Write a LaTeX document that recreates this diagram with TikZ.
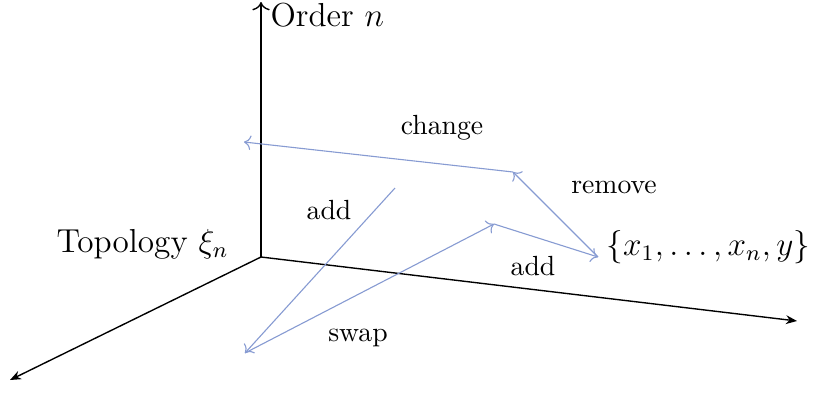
\documentclass[tikz,border=0pt]{standalone}
\usetikzlibrary{arrows.meta}
\definecolor{moveblue}{RGB}{135,155,210}
\begin{document}
\begin{tikzpicture}[x=0.361pt,y=-0.361pt,
  axis/.style={black,line width=0.5pt},
  move/.style={moveblue,line width=0.4pt,-{To[length=2.5pt]}},
  lab/.style={font=\normalsize},
  axlab/.style={font=\large}]
\useasboundingbox (0,0) rectangle (815,396);
\coordinate (O) at (261,257);
\coordinate (Ytop) at (261,2);
\coordinate (Xend) at (797,321);
\coordinate (Zend) at (10,380);
\draw[axis,-{To[length=3pt]}] (O) -- (Ytop);
\draw[axis,-{Stealth[length=4pt,width=3.2pt]}] (O) -- (Xend);
\draw[axis,-{Stealth[length=4pt,width=3.2pt]}] (O) -- (Zend);
\node[axlab,anchor=west,inner sep=0pt] (ylab) at (270,15) {Order $n$};
\node[axlab,anchor=east,inner sep=0pt] (zlab) at (229,244) {Topology $\xi_n$};
\node[axlab,anchor=west,inner sep=0pt] (xlab) at (606,247) {$\{x_1,\ldots,x_n,y\}$};
\coordinate (p0) at (395,188);
\coordinate (p1) at (245,353);
\coordinate (p2) at (494,224);
\coordinate (p3) at (598,257);
\coordinate (p4) at (513,172);
\coordinate (p5) at (244,142);
\draw[move] (p0) -- (p1);
\draw[move] (p1) -- (p2);
\draw[move] (p2) -- (p3);
\draw[move] (p3) -- (p4);
\draw[move] (p4) -- (p5);
\node[lab] (l1) at (329,210) {add};
\node[lab] (l2) at (358,338) {swap};
\node[lab] (l3) at (533,266) {add};
\node[lab] (l4) at (614,187) {remove};
\node[lab] (l5) at (442,128) {change};
\end{tikzpicture}
\end{document}
